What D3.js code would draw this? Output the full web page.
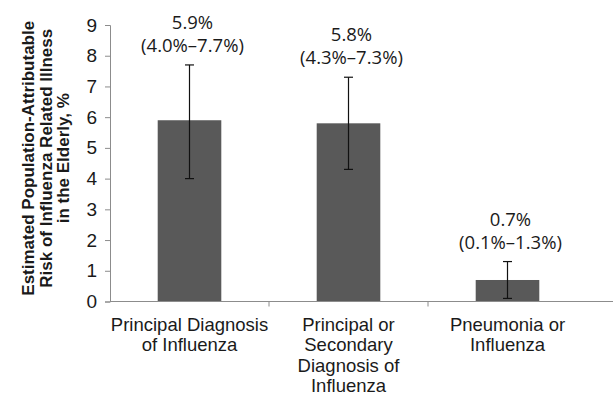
<!DOCTYPE html>
<html>
<head>
<meta charset="utf-8">
<script src="https://cdn.jsdelivr.net/npm/d3@7"></script>
<style>
  html, body { margin: 0; padding: 0; background: #fff; }
  svg { display: block; }
</style>
</head>
<body>
<div id="chart"></div>
<script>
// Population-attributable risk of influenza-related illness in the elderly
const categories = [
  ["Principal Diagnosis", "of Influenza"],
  ["Principal or", "Secondary", "Diagnosis of", "Influenza"],
  ["Pneumonia or", "Influenza"]
];
const estimates = [5.9, 5.8, 0.7];
const lowerCI = [4.0, 4.3, 0.1];
const upperCI = [7.7, 7.3, 1.3];
const yTicks = [0, 1, 2, 3, 4, 5, 6, 7, 8, 9];
const yTitle = [
  "Estimated Population-Attributable",
  "Risk of Influenza Related Illness",
  "in the Elderly, %"
];

const width = 613, height = 396;
const margin = { left: 110, top: 25, bottom: 94.5 };
const plotRight = 587;

const svg = d3.select("#chart").append("svg")
  .attr("width", width).attr("height", height);

const x = d3.scaleBand()
  .domain(d3.range(categories.length))
  .range([margin.left, plotRight])
  .paddingInner(0.6)
  .paddingOuter(0.3);

const y = d3.scaleLinear()
  .domain([0, 9])
  .range([height - margin.bottom, margin.top]);

const axisColor = "#8c8c8c";
const textColor = "#1a1a1a";
const sans = "'Liberation Sans', Arial, sans-serif";

// Bars
svg.append("g").selectAll("rect")
  .data(estimates)
  .join("rect")
  .attr("x", (d, i) => x(i))
  .attr("y", d => y(d))
  .attr("width", x.bandwidth())
  .attr("height", d => y(0) - y(d))
  .attr("fill", "#595959");

// Y axis
const yAxis = svg.append("g")
  .attr("transform", `translate(${margin.left},0)`)
  .call(d3.axisLeft(y).tickValues(yTicks).tickSize(5).tickPadding(8).tickFormat(d3.format("d")));
yAxis.select(".domain").attr("stroke", axisColor);
yAxis.selectAll(".tick line").attr("stroke", axisColor);
yAxis.selectAll(".tick text")
  .attr("fill", textColor)
  .style("font-family", sans)
  .style("font-size", "19px");

// X axis: baseline runs to the right edge; short ticks separate the categories
const xStep = x.step();
const boundaries = d3.range(1, categories.length)
  .map(i => x(i) - (x.paddingInner() * xStep) / 2);
const gx = svg.append("g");
gx.append("line")
  .attr("x1", margin.left).attr("x2", width)
  .attr("y1", y(0)).attr("y2", y(0))
  .attr("stroke", axisColor).attr("stroke-width", 1.2);
gx.selectAll("line.sep")
  .data(boundaries)
  .join("line")
  .attr("class", "sep")
  .attr("x1", d => d).attr("x2", d => d)
  .attr("y1", y(0)).attr("y2", y(0) + 5)
  .attr("stroke", axisColor);

// Category labels
gx.selectAll("text.cat")
  .data(categories)
  .join("text")
  .attr("class", "cat")
  .attr("text-anchor", "middle")
  .attr("fill", textColor)
  .style("font-family", sans)
  .style("font-size", "18.5px")
  .each(function (lines, i) {
    const t = d3.select(this);
    lines.forEach((ln, k) => {
      t.append("tspan")
        .attr("x", x(i) + x.bandwidth() / 2)
        .attr("y", y(0) + 29 + k * 20.5)
        .text(ln);
    });
  });

// Error bars (95% CI)
const cap = 4.5;
const err = svg.append("g").attr("stroke", "#111").attr("stroke-width", 1.2);
estimates.forEach((d, i) => {
  const cx = x(i) + x.bandwidth() / 2;
  err.append("line").attr("x1", cx).attr("x2", cx).attr("y1", y(lowerCI[i])).attr("y2", y(upperCI[i]));
  err.append("line").attr("x1", cx - cap).attr("x2", cx + cap).attr("y1", y(upperCI[i])).attr("y2", y(upperCI[i]));
  err.append("line").attr("x1", cx - cap).attr("x2", cx + cap).attr("y1", y(lowerCI[i])).attr("y2", y(lowerCI[i]));
});

// Value labels above each error bar: estimate and confidence interval
const fmt = v => v.toFixed(1) + "%";
const vlab = svg.append("g")
  .attr("text-anchor", "middle")
  .attr("fill", textColor)
  .style("font-family", "'Open Sans', sans-serif")
  .style("font-size", "18.5px");
estimates.forEach((d, i) => {
  const cx = x(i) + x.bandwidth() / 2 + 3;
  const top = y(upperCI[i]);
  const t = vlab.append("text");
  t.append("tspan").attr("x", cx).attr("y", top - 36).text(fmt(d));
  t.append("tspan").attr("x", cx).attr("y", top - 13)
    .text(`(${fmt(lowerCI[i])}\u2013${fmt(upperCI[i])})`);
});

// Y axis title
const yt = svg.append("text")
  .attr("transform", `translate(0,${(y(0) + y(9)) / 2 - 5}) rotate(-90)`)
  .attr("text-anchor", "middle")
  .attr("fill", textColor)
  .style("font-family", sans)
  .style("font-weight", "bold")
  .style("font-size", "17px");
yTitle.forEach((ln, k) => {
  yt.append("tspan").attr("x", 0).attr("y", 34 + k * 17.5).text(ln);
});
</script>
</body>
</html>
